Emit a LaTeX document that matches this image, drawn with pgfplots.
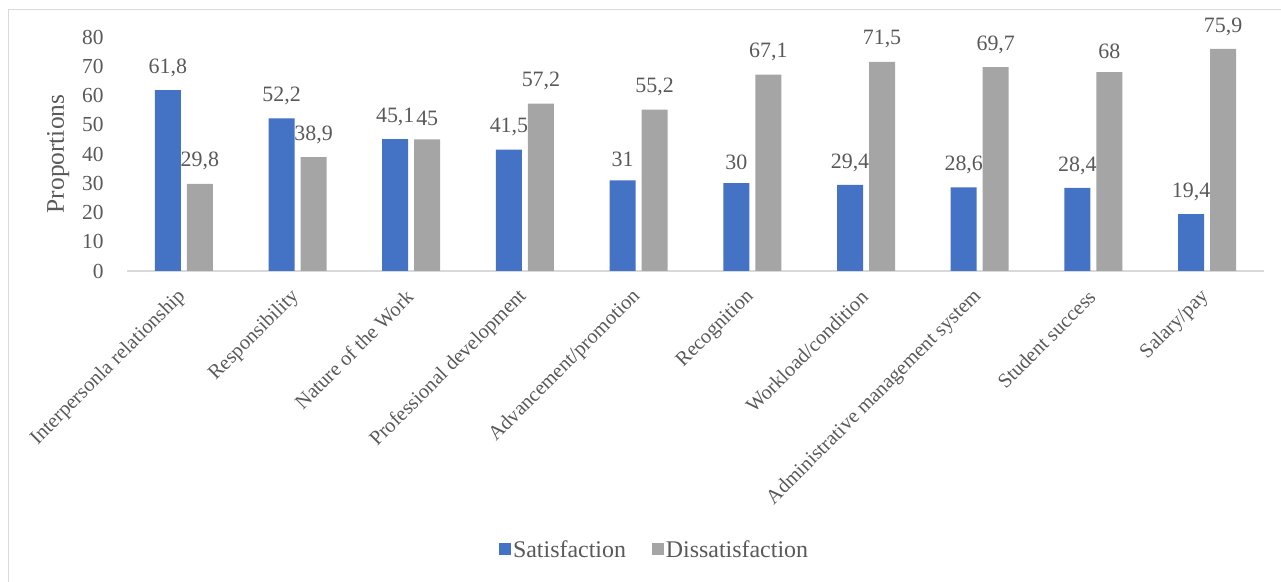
\documentclass[border=0pt]{standalone}
\usepackage{pgfplots}
\pgfplotsset{compat=1.18}
\usepackage{fontspec}
\setmainfont{Liberation Serif}
\definecolor{cblue}{HTML}{4472C4}
\definecolor{cgray}{HTML}{A5A5A5}
\definecolor{ctext}{HTML}{595959}
\definecolor{cline}{HTML}{D9D9D9}
\begin{document}
\begin{tikzpicture}[x=1bp,y=1bp]
\useasboundingbox (0,0) rectangle (1281,582);
\draw[cline, line width=1.5bp] (8.5,0) -- (8.5,572.5) -- (1281,572.5);
\begin{axis}[
  at={(127bp,311bp)}, anchor=south west,
  scale only axis, width=1137bp, height=234bp,
  ymin=0, ymax=80, xmin=-0.5, xmax=9.5,
  ytick={0,10,...,80},
  xtick={0,...,9},
  xticklabels={Interpersonla relationship, Responsibility, Nature of the Work, Professional development, Advancement/promotion, Recognition, Workload/condition, Administrative management system, Student success, Salary/pay},
  axis y line*=left, axis x line*=bottom,
  y axis line style={draw=none},
  x axis line style={cline, line width=1.5bp, -},
  tick style={draw=none},
  every tick label/.style={font=\fontsize{21.5}{24}\selectfont, text=ctext},
  xticklabel style={yshift=-17bp, xshift=0bp, rotate=45, anchor=east, font=\fontsize{20.5}{23}\selectfont, text=ctext, inner sep=2bp},
  yticklabel style={anchor=east, xshift=-20bp},
  /pgf/number format/assume math mode=true,
  /pgf/number format/use comma,
  /pgf/number format/fixed,
  /pgf/number format/precision=1,
  ylabel={Proportions},
  ylabel style={at={(axis description cs:-0.0605,0.5)}, anchor=center, rotate=0, font=\fontsize{25.5}{28}\selectfont, text=ctext},
  ybar, bar width=26bp,
  nodes near coords,
  nodes near coords style={font=\fontsize{22}{24}\selectfont, text=ctext, yshift=10bp},
  legend style={at={(0.464,-1.19)}, anchor=center, draw=none, legend columns=2, font=\fontsize{24}{27}\selectfont, text=ctext, /tikz/every even column/.append style={column sep=24bp}},
  legend image code/.code={\fill[#1] (-4bp,-6bp) rectangle (8bp,6bp);},
  clip=false,
]
\addplot[fill=cblue, draw=none, bar shift=-16bp] coordinates {(0,61.8) (1,52.2) (2,45.1) (3,41.5) (4,31) (5,30) (6,29.4) (7,28.6) (8,28.4) (9,19.4)};
\addplot[fill=cgray, draw=none, bar shift=16bp] coordinates {(0,29.8) (1,38.9) (2,45) (3,57.2) (4,55.2) (5,67.1) (6,71.5) (7,69.7) (8,68) (9,75.9)};
\legend{Satisfaction, Dissatisfaction}
\end{axis}
\end{tikzpicture}
\end{document}
